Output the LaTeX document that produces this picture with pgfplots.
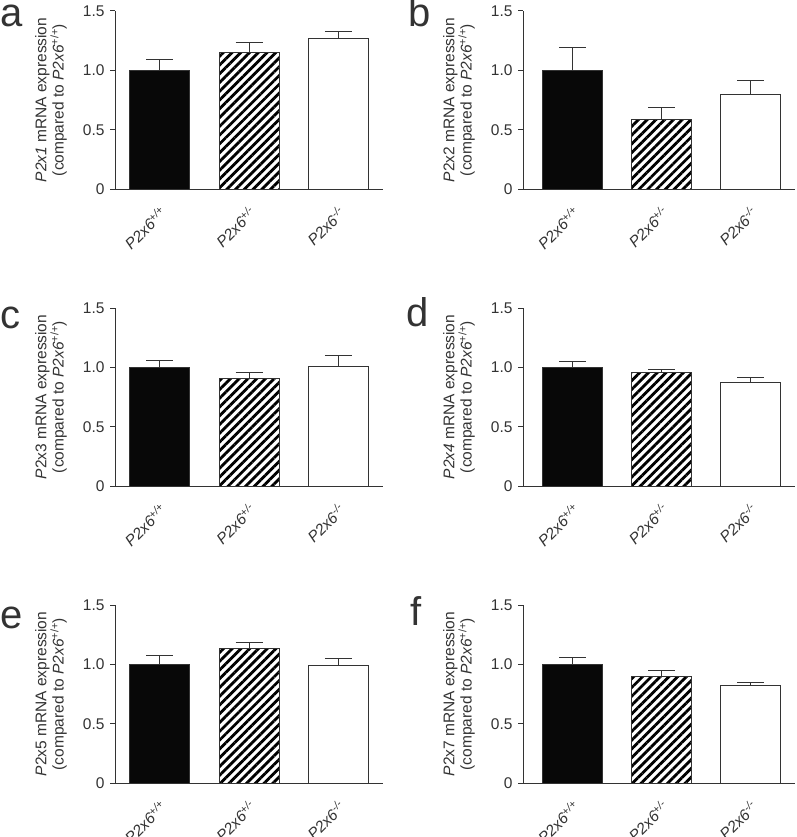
\documentclass[border=0pt]{standalone}
\usepackage{pgfplots}
\pgfplotsset{compat=1.18}
\usepackage{fontspec}
\setmainfont{Liberation Sans}
\usetikzlibrary{patterns.meta}
\definecolor{txt}{HTML}{333333}

\pgfplotsset{
 panel/.style={
  scale only axis, width=268pt, height=178pt,
  anchor=south west,
  ymin=0, ymax=1.5, xmin=-0.5, xmax=2.5,
  axis lines*=left,
  axis line style={line width=1pt, color=txt},
  ytick={0,0.5,1,1.5}, yticklabels={0,0.5,1.0,1.5},
  xtick={0,1,2},
  xticklabels={\textit{P2x6\textsuperscript{+/+}}, \textit{P2x6\textsuperscript{+/-}}, \textit{P2x6\textsuperscript{-/-}}},
  x tick style={draw=none},
  y tick style={line width=1pt, color=txt},
  tick align=outside, major tick length=5pt,
  ticklabel style={font=\fontsize{15.5}{17}\selectfont, color=txt},
  yticklabel style={xshift=-2pt},
  xticklabel style={xshift=-1pt, yshift=-8pt, rotate=45, anchor=north east, inner sep=2pt},
  ylabel style={at={([xshift=-64pt]axis description cs:0,0.5)}, anchor=center, rotate=0, align=center, font=\fontsize{15.5}{16}\selectfont, color=txt},
  clip=false,
 },
 barbase/.style={ybar, bar width=60pt, bar shift=0pt, draw=txt, line width=1pt,
  error bars/y dir=plus, error bars/y explicit, error bars/error mark=|,
  error bars/error mark options={line width=1pt, mark size=13.5pt, color=txt},
  error bars/error bar style={line width=1pt, color=txt}},
 blk/.style={barbase, fill=black!97},
 hat/.style={barbase, pattern={Lines[angle=45,distance=6.2pt,line width=2.8pt]}, pattern color=black},
 wht/.style={barbase, fill=white},
}

\begin{document}
\begin{tikzpicture}
\useasboundingbox (0,0) rectangle (796pt,-837pt);

% ---- a ----
\begin{axis}[panel, at={(115pt,-189pt)},
  ylabel={\textit{P2x1} mRNA expression\\(compared to \textit{P2x6}\textsuperscript{+/+})}]
\addplot[blk] coordinates {(0,1.000) +- (0,0.093)};
\addplot[hat] coordinates {(1,1.154) +- (0,0.079)};
\addplot[wht] coordinates {(2,1.270) +- (0,0.061)};
\end{axis}

% ---- b ----
\begin{axis}[panel, at={(523pt,-189pt)}, width=272pt, xmin=-0.56,
  ylabel={\textit{P}2x2 mRNA expression\\(compared to \textit{P2x6}\textsuperscript{+/+})}]
\addplot[blk] coordinates {(0,1.000) +- (0,0.190)};
\addplot[hat] coordinates {(1,0.587) +- (0,0.101)};
\addplot[wht] coordinates {(2,0.798) +- (0,0.115)};
\end{axis}

% ---- c ----
\begin{axis}[panel, at={(115pt,-486pt)},
  ylabel={\textit{P}2x3 mRNA expression\\(compared to \textit{P2x6}\textsuperscript{+/+})}]
\addplot[blk] coordinates {(0,1.000) +- (0,0.056)};
\addplot[hat] coordinates {(1,0.907) +- (0,0.051)};
\addplot[wht] coordinates {(2,1.010) +- (0,0.086)};
\end{axis}

% ---- d ----
\begin{axis}[panel, at={(523pt,-486pt)}, width=272pt, xmin=-0.56,
  ylabel={\textit{P2x4} mRNA expression\\(compared to \textit{P2x6}\textsuperscript{+/+})}]
\addplot[blk] coordinates {(0,1.000) +- (0,0.053)};
\addplot[hat] coordinates {(1,0.955) +- (0,0.028)};
\addplot[wht] coordinates {(2,0.871) +- (0,0.047)};
\end{axis}

% ---- e ----
\begin{axis}[panel, at={(115pt,-783pt)},
  ylabel={\textit{P}2x5 mRNA expression\\(compared to \textit{P2x6}\textsuperscript{+/+})}]
\addplot[blk] coordinates {(0,1.000) +- (0,0.071)};
\addplot[hat] coordinates {(1,1.133) +- (0,0.050)};
\addplot[wht] coordinates {(2,0.992) +- (0,0.054)};
\end{axis}

% ---- f ----
\begin{axis}[panel, at={(523pt,-783pt)}, width=272pt, xmin=-0.56,
  ylabel={\textit{P}2x7 mRNA expression\\(compared to \textit{P2x6}\textsuperscript{+/+})}]
\addplot[blk] coordinates {(0,1.000) +- (0,0.060)};
\addplot[hat] coordinates {(1,0.897) +- (0,0.048)};
\addplot[wht] coordinates {(2,0.821) +- (0,0.028)};
\end{axis}

% panel letters
\begin{scope}[every node/.style={font=\fontsize{40}{40}\selectfont, color=txt, inner sep=0pt, anchor=base west}]
\node at (0pt,-27pt) {a};
\node at (408pt,-27pt) {b};
\node at (0pt,-328pt) {c};
\node at (406pt,-326pt) {d};
\node at (0pt,-628pt) {e};
\node at (410pt,-625pt) {f};
\end{scope}
\end{tikzpicture}
\end{document}
